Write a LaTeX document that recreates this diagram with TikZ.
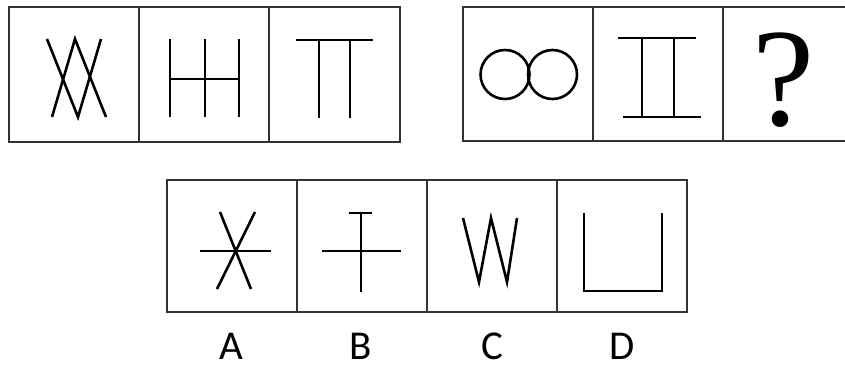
\documentclass[tikz,border=0pt]{standalone}
\usepackage{fontspec}
\newfontfamily\labelfont{Carlito}
\newfontfamily\qfont{Liberation Serif}
\begin{document}
\begin{tikzpicture}[x=1pt,y=-1pt,
  panel/.style={draw=black!80,line width=2.6pt},
  fig/.style={draw=black,line width=2.6pt,line cap=butt},
  lbl/.style={font=\labelfont\fontsize{41}{41}\selectfont,anchor=center,inner sep=0pt}]
\useasboundingbox (0,0) rectangle (845,367);
% top left panel
\draw[panel] (9,7) rectangle (400,142);
\draw[panel] (139,7) -- (139,142);
\draw[panel] (269,7) -- (269,142);
% cell 1
\draw[fig] (47,39) -- (78,117) -- (101,39);
\draw[fig] (52,117) -- (75,39) -- (106,117);
% cell 2
\draw[fig] (170,39) -- (170,117);
\draw[fig] (205,39) -- (205,117);
\draw[fig] (239,39) -- (239,117);
\draw[fig] (170,79) -- (239,79);
% cell 3
\draw[fig] (296,40) -- (373,40);
\draw[fig] (319,40) -- (319,118);
\draw[fig] (350,40) -- (350,118);
% top right panel
\draw[panel] (463,7) rectangle (847,141);
\draw[panel] (593,7) -- (593,141);
\draw[panel] (723,7) -- (723,141);
% cell 4
\draw[fig] (505,74.5) circle (24.5);
\draw[fig] (552.5,74.5) circle (24.5);
% cell 5
\draw[fig] (618,38) -- (696,38);
\draw[fig] (623,117) -- (701,117);
\draw[fig] (642,38) -- (642,117);
\draw[fig] (674,38) -- (674,117);
% cell 6
\node[anchor=base,inner sep=0pt,font=\qfont\fontsize{140}{140}\selectfont] (q) at (784,125) {?};
% bottom panel
\draw[panel] (167,180) rectangle (687,312);
\draw[panel] (297,180) -- (297,312);
\draw[panel] (427,180) -- (427,312);
\draw[panel] (557,180) -- (557,312);
% A
\draw[fig] (200,251) -- (271,251);
\draw[fig] (220,212) -- (251,289);
\draw[fig] (255,212) -- (217,289);
% B
\draw[fig] (349,213) -- (372,213);
\draw[fig] (361,213) -- (361,292);
\draw[fig] (322,251) -- (401,251);
% C
\draw[fig,line join=miter] (463,218) -- (479,282) -- (491,218) -- (507,282) -- (517,218);
% D
\draw[fig,line join=miter] (584,213) -- (584,291) -- (662,291) -- (662,213);
% labels
\node[lbl] (la) at (231,346.5) {A};
\node[lbl] (lb) at (361,346.5) {B};
\node[lbl] (lc) at (492,346.5) {C};
\node[lbl] (ld) at (622,346.5) {D};
\end{tikzpicture}
\end{document}
